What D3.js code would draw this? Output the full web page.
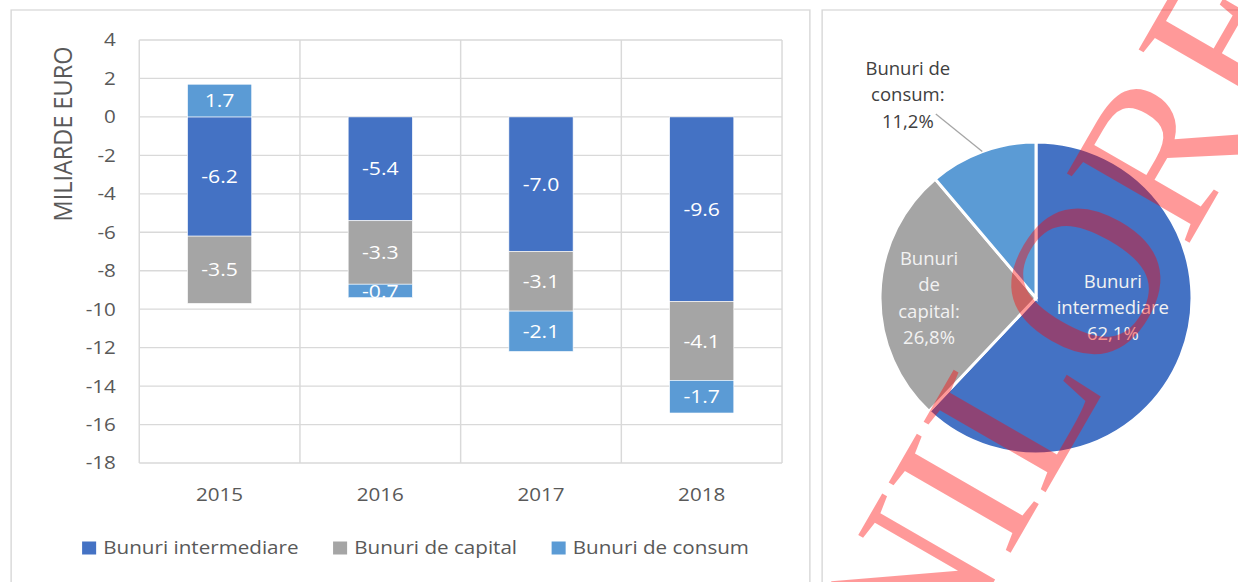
<!DOCTYPE html>
<meta charset="utf-8">
<style>
body { margin: 0; background: #fff; }
#wrap { position: relative; width: 1238px; height: 582px; overflow: hidden; }
#wrap svg { position: absolute; left: 0; top: 0; }
text { font-family: "Open Sans", sans-serif; }
</style>
<div id="wrap"></div>
<script src="https://cdn.jsdelivr.net/npm/d3@7"></script>
<script>

// data
var years = ["2015", "2016", "2017", "2018"];
var intermediare = [-6.2, -5.4, -7.0, -9.6];
var capital = [-3.5, -3.3, -3.1, -4.1];
var consum = [1.7, -0.7, -2.1, -1.7];
var seriesNames = ["Bunuri intermediare", "Bunuri de capital", "Bunuri de consum"];
var colors = ["#4472c4", "#a5a5a5", "#5b9bd5"];
var yTicks = [4, 2, 0, -2, -4, -6, -8, -10, -12, -14, -16, -18];

var pieShares = [62.1, 26.8, 11.2];
var pieLabels = [["Bunuri", "intermediare", "62,1%"],
                 ["Bunuri", "de", "capital:", "26,8%"],
                 ["Bunuri de", "consum:", "11,2%"]];

// the bar panel text is wide, so that panel is drawn squeezed and stretched back
var sx = 1.114,
    W = 1238 / sx,
    H = 582;

var svg = d3.select("#wrap").append("svg")
    .attr("width", 1238)
    .attr("height", 582)
    .attr("viewBox", "0 0 " + W + " " + H)
    .attr("preserveAspectRatio", "none");

// panel frames
svg.append("rect").attr("x", 10).attr("y", 10).attr("width", 717).attr("height", 620)
    .attr("fill", "none").attr("stroke", "#d9d9d9").attr("stroke-width", 1.3);
svg.append("rect").attr("x", 738).attr("y", 10).attr("width", 420).attr("height", 620)
    .attr("fill", "none").attr("stroke", "#d9d9d9").attr("stroke-width", 1.3);

// ---- bar chart
var x = d3.scaleBand().domain(years).range([125, 702]);
var y = d3.scaleLinear().domain([-18, 4]).range([463, 40]);

var g = svg.append("g");

g.selectAll(".hgrid").data(yTicks).enter().append("line")
    .attr("x1", 125).attr("x2", 702)
    .attr("y1", function(d) { return y(d); })
    .attr("y2", function(d) { return y(d); })
    .attr("stroke", "#d9d9d9").attr("stroke-width", 1.3);

g.selectAll(".vgrid").data(years.map(function(d) { return x(d); }).concat([702])).enter().append("line")
    .attr("x1", function(d) { return d; }).attr("x2", function(d) { return d; })
    .attr("y1", y(4)).attr("y2", y(-18))
    .attr("stroke", "#d9d9d9").attr("stroke-width", 1.3);

g.selectAll(".ytick").data(yTicks).enter().append("text")
    .attr("x", 104)
    .attr("y", function(d) { return y(d); })
    .attr("dy", "0.35em")
    .attr("text-anchor", "end")
    .attr("fill", "#595959")
    .style("font-size", "18.5px")
    .text(function(d) { return d; });

g.append("text")
    .attr("transform", "translate(56,134) rotate(-90)")
    .attr("text-anchor", "middle")
    .attr("dy", "0.35em")
    .attr("fill", "#595959")
    .style("font-size", "23.5px")
    .text("MILIARDE EURO");

g.selectAll(".xlab").data(years).enter().append("text")
    .attr("x", function(d) { return x(d) + x.bandwidth() / 2; })
    .attr("y", 495)
    .attr("dy", "0.35em")
    .attr("text-anchor", "middle")
    .attr("fill", "#595959")
    .style("font-size", "18.5px")
    .text(function(d) { return d; });

var table = years.map(function(yr, i) {
  return { year: yr, a: intermediare[i], b: capital[i], c: consum[i] };
});
var keys = ["a", "b", "c"];
var stacked = d3.stack().keys(keys).offset(d3.stackOffsetDiverging)(table);

var bw = x.bandwidth() * 0.4;

var serie = g.selectAll(".serie").data(stacked).enter().append("g")
    .attr("fill", function(d, i) { return colors[i]; });

serie.selectAll("rect").data(function(d) { return d; }).enter().append("rect")
    .attr("x", function(d) { return x(d.data.year) + (x.bandwidth() - bw) / 2; })
    .attr("y", function(d) { return y(Math.max(d[0], d[1])); })
    .attr("height", function(d) { return Math.abs(y(d[0]) - y(d[1])); })
    .attr("width", bw)
    .attr("stroke", "#fff")
    .attr("stroke-width", 0.6);

serie.each(function(s) {
  d3.select(this).selectAll("text").data(s).enter().append("text")
      .attr("x", function(d) { return x(d.data.year) + x.bandwidth() / 2; })
      .attr("y", function(d) { return (y(d[0]) + y(d[1])) / 2; })
      .attr("dy", "0.35em")
      .attr("text-anchor", "middle")
      .attr("fill", "#fff")
      .style("font-size", "19px")
      .text(function(d) { return d.data[s.key].toFixed(1); });
});

// legend
var legend = svg.append("g");
var lx = 0;
seriesNames.forEach(function(name, i) {
  var item = legend.append("g").attr("transform", "translate(" + lx + ",0)");
  item.append("rect").attr("x", 0).attr("y", -6.5).attr("width", 12.6).attr("height", 13).attr("fill", colors[i]);
  var t = item.append("text").attr("x", 19).attr("dy", "0.35em")
      .attr("fill", "#595959").style("font-size", "18.5px").text(name);
  lx += 19 + t.node().getComputedTextLength() + 31;
});
lx -= 31;
legend.attr("transform", "translate(" + (373 - lx / 2) + ",548)");

// ---- pie (real pixel space)
var ps = d3.select("#wrap").append("svg")
    .attr("width", 1238)
    .attr("height", 582);

var r = 156;
var pie = d3.pie().sort(null).value(function(d) { return d; });
var arc = d3.arc().innerRadius(0).outerRadius(r);
var arcs = pie(pieShares);
var pg = ps.append("g").attr("transform", "translate(1036,298)");

pg.selectAll("path").data(arcs).enter().append("path")
    .attr("d", arc)
    .attr("fill", function(d, i) { return colors[i]; })
    .attr("stroke", "#fff")
    .attr("stroke-width", 3);

// label placement: radius factor and nudge (layout only)
var labelR = [0.53, 0.686, 1.4];
var labelNudge = [[0, -21], [0, 3], [-53, 2]];
var labelColor = ["#f2f2f2", "#f2f2f2", "#404040"];
var lineH = 26.3;

arcs.forEach(function(a, i) {
  var mid = (a.startAngle + a.endAngle) / 2;
  var cx = Math.sin(mid) * r * labelR[i] + labelNudge[i][0],
      cy = -Math.cos(mid) * r * labelR[i] + labelNudge[i][1];
  var lines = pieLabels[i];
  var t = pg.append("text")
      .attr("text-anchor", "middle")
      .attr("fill", labelColor[i])
      .style("font-size", "18.5px");
  lines.forEach(function(l, k) {
    t.append("tspan")
        .attr("x", cx)
        .attr("y", cy + (k - (lines.length - 1) / 2) * lineH)
        .attr("dy", "0.35em")
        .text(l);
  });
  if (labelR[i] > 1) {
    pg.append("line")
        .attr("x1", Math.sin(mid) * r).attr("y1", -Math.cos(mid) * r)
        .attr("x2", cx + 28).attr("y2", cy + 19)
        .attr("stroke", "#a6a6a6").attr("stroke-width", 1.3);
  }
});

// ---- watermark overlay
ps.append("text")
    .attr("transform", "translate(929,694) rotate(-60)")
    .attr("fill", "#ff0000")
    .attr("fill-opacity", 0.4)
    .style("font-family", "'Liberation Serif', serif")
    .style("font-size", "215px")
    .text("NILORE");

</script>
